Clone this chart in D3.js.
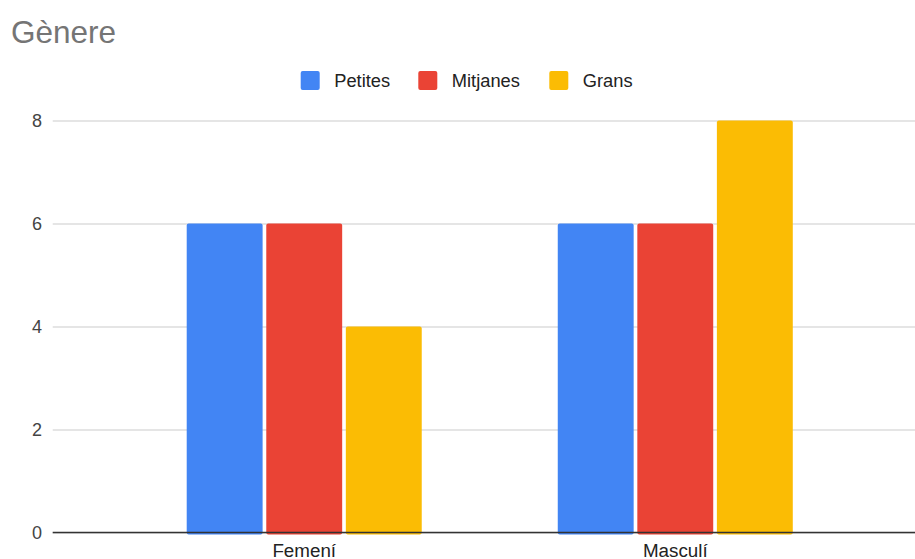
<!DOCTYPE html>
<html>
<head>
<meta charset="utf-8">
<script src="https://cdn.jsdelivr.net/npm/d3@7"></script>
<style>
  html, body { margin: 0; padding: 0; background: #fff; }
  svg { display: block; font-family: "Liberation Sans", Arial, sans-serif; }
</style>
</head>
<body>
<svg id="chart" width="915" height="559"></svg>
<script>
const title = "Gènere";
const categories = ["Femení", "Masculí"];
const seriesNames = ["Petites", "Mitjanes", "Grans"];
const seriesColors = ["#4285F4", "#EA4335", "#FBBC04"];
const petites = [6, 6];
const mitjanes = [6, 6];
const grans = [4, 8];
const yTicks = [0, 2, 4, 6, 8];

const seriesValues = [petites, mitjanes, grans];
const data = categories.map((c, i) => ({
  cat: c,
  values: seriesNames.map((s, j) => ({ key: s, value: seriesValues[j][i], color: seriesColors[j] }))
}));

const svg = d3.select("#chart");
const gridLeft = 52.7, gridRight = 915;

const y = d3.scaleLinear().domain([0, 8]).range([532.5, 120.5]);
const x0 = d3.scaleBand().domain(categories).range([118.7, 860.8]).paddingInner(0.3666).paddingOuter(0.1833);
const x1 = d3.scaleBand().domain(seriesNames).range([0, x0.bandwidth()]).paddingInner(0.046).paddingOuter(0);

// Title
svg.append("text").attr("x", 11).attr("y", 42.5)
  .attr("font-size", 31.5).attr("fill", "#757575").text(title);

// Gridlines
const yAxis = d3.axisLeft(y).tickValues(yTicks).tickSize(-(gridRight - gridLeft)).tickPadding(10).tickFormat(d3.format("d"));
const gAxis = svg.append("g").attr("transform", `translate(${gridLeft},0)`).call(yAxis);
gAxis.select(".domain").remove();
gAxis.selectAll(".tick line").attr("stroke", "#cccccc").attr("stroke-width", 1.2);
gAxis.selectAll(".tick text").attr("font-size", 18).attr("fill", "#444444")
  .attr("x", 42 - gridLeft).attr("font-family", "'Liberation Sans', Arial, sans-serif");

// Bars
const groups = svg.append("g").selectAll("g").data(data).join("g")
  .attr("transform", d => `translate(${x0(d.cat)},0)`);
groups.selectAll("rect").data(d => d.values).join("rect")
  .attr("x", d => x1(d.key))
  .attr("width", x1.bandwidth())
  .attr("y", d => y(d.value))
  .attr("height", d => y(0) - y(d.value) + 2)
  .attr("rx", 2).attr("ry", 2)
  .attr("fill", d => d.color);

// Baseline
svg.append("line").attr("x1", gridLeft).attr("x2", gridRight)
  .attr("y1", y(0)).attr("y2", y(0)).attr("stroke", "#333333").attr("stroke-width", 1.3);

// X labels
const xAxis = d3.axisBottom(x0).tickSize(0).tickPadding(0);
const gx = svg.append("g").attr("transform", `translate(0,${y(0)})`).call(xAxis);
gx.select(".domain").remove();
gx.selectAll(".tick text").attr("font-size", 18.8).attr("fill", "#222222")
  .attr("dy", null).attr("y", 24).attr("font-family", "'Liberation Sans', Arial, sans-serif");

// Legend
const legendX = [300.7, 418.3, 549.3];
const legend = svg.append("g").selectAll("g").data(seriesNames).join("g")
  .attr("transform", (d, i) => `translate(${legendX[i]},71)`);
legend.append("rect").attr("width", 19).attr("height", 19).attr("rx", 2)
  .attr("fill", (d, i) => seriesColors[i]);
legend.append("text").attr("x", 33.5).attr("y", 15.8)
  .attr("font-size", 18.3).attr("fill", "#222222").text(d => d);
</script>
</body>
</html>
